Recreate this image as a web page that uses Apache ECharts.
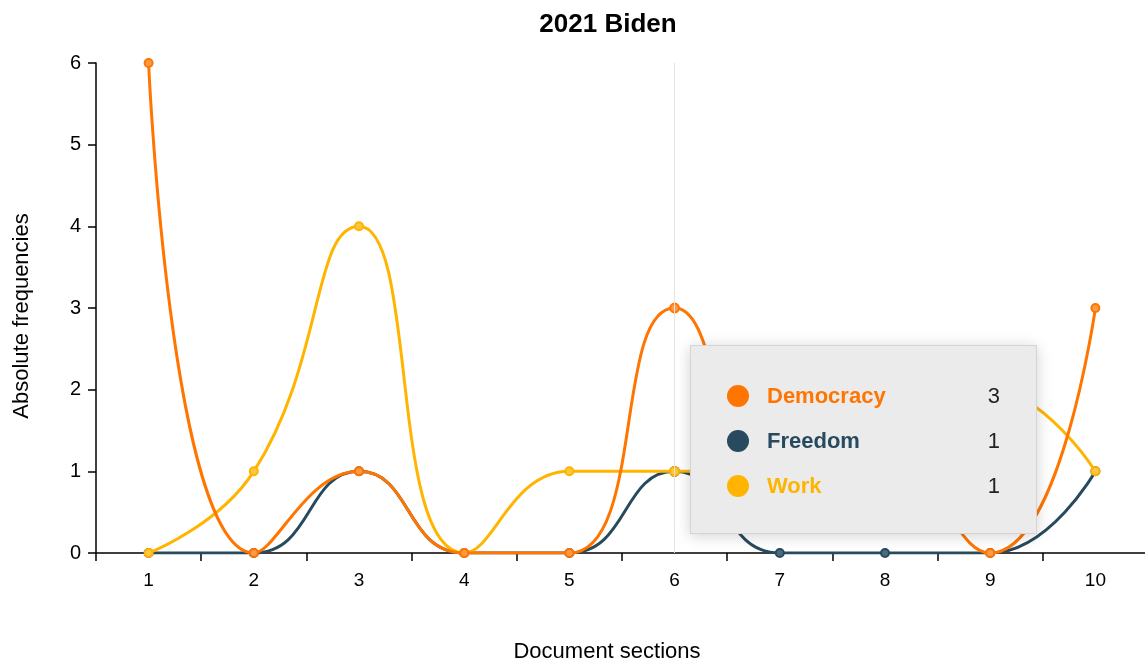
<!DOCTYPE html>
<html>
<head>
<meta charset="utf-8">
<title>2021 Biden</title>
<script src="https://cdn.jsdelivr.net/npm/echarts@6/dist/echarts.min.js"></script>
<style>
  html, body { margin: 0; padding: 0; background: #fff; }
  #chart { width: 1145px; height: 660px; }
</style>
</head>
<body>
<div id="chart"></div>
<script>
// Term frequencies per document section
const sections = ['1', '2', '3', '4', '5', '6', '7', '8', '9', '10'];
const democracy = [6, 0, 1, 0, 0, 3, 1, 1, 0, 3];
const freedom   = [0, 0, 1, 0, 0, 1, 0, 0, 0, 1];
const work      = [0, 1, 4, 0, 1, 1, 1, 1, 2, 1];
const yTicks = [0, 1, 2, 3, 4, 5, 6];

const COLORS = { Democracy: '#ff7500', Freedom: '#274a5e', Work: '#ffb400' };
const DOT_FILL = { Democracy: '#ff9a45', Freedom: '#4d6b7d', Work: '#ffc640' };
const FONT = '"Liberation Sans", Arial, Helvetica, sans-serif';
const focusIndex = 5;

const chart = echarts.init(document.getElementById('chart'), null, { renderer: 'canvas' });

function lineSeries(name, data, z) {
  return {
    name: name,
    type: 'line',
    data: data,
    smooth: 0.5,
    z: z,
    symbol: 'circle',
    symbolSize: 8,
    showSymbol: true,
    lineStyle: { color: COLORS[name], width: 3 },
    itemStyle: { color: DOT_FILL[name], borderColor: COLORS[name], borderWidth: 2 },
    emphasis: { disabled: true }
  };
}

const rows = [
  ['Democracy', democracy],
  ['Freedom', freedom],
  ['Work', work]
];

chart.setOption({
  animation: false,
  title: {
    text: '2021 Biden',
    left: 603,
    top: 7,
    textAlign: 'center',
    textStyle: { fontFamily: FONT, fontWeight: 'bold', fontSize: 26, color: '#000' }
  },
  grid: {
    left: 96, top: 63, width: 1052, height: 490,
    containLabel: false,
    outerBoundsMode: 'none'
  },
  tooltip: {
    trigger: 'axis',
    triggerOn: 'none',
    alwaysShowContent: true,
    transitionDuration: 0,
    position: [690, 345],
    backgroundColor: '#ebebeb',
    borderColor: '#d4d4d4',
    borderWidth: 1,
    padding: [27, 36, 25, 36],
    extraCssText: 'box-shadow: 0 2px 14px rgba(0,0,0,0.18); border-radius: 0;',
    axisPointer: {
      type: 'line',
      lineStyle: { color: '#e3e3e3', width: 1, type: 'solid' }
    },
    formatter: function (params) {
      const i = params[0].dataIndex;
      return rows.map(function (r) {
        const name = r[0];
        return '<div style="display:flex;align-items:center;width:273px;height:45px;font-family:' + FONT.replace(/"/g, "'") + ';font-size:22px;">' +
          '<span style="display:inline-block;width:22px;height:22px;border-radius:50%;background:' + COLORS[name] + ';margin-right:18px;"></span>' +
          '<span style="font-weight:bold;color:' + COLORS[name] + ';flex:1;">' + name + '</span>' +
          '<span style="color:#222;">' + r[1][i] + '</span></div>';
      }).join('');
    }
  },
  xAxis: {
    type: 'category',
    data: sections,
    boundaryGap: true,
    name: 'Document sections',
    nameLocation: 'middle',
    nameGap: 88,
    nameTextStyle: { fontFamily: FONT, fontSize: 22, color: '#000', padding: [0, 30, 0, 0] },
    axisLine: { lineStyle: { color: '#000', width: 1.5 } },
    axisTick: { show: true, alignWithLabel: false, length: 8, lineStyle: { color: '#000', width: 1.5 } },
    axisLabel: { fontFamily: FONT, fontSize: 19, color: '#000', margin: 18 },
    axisPointer: { show: true, value: focusIndex, status: 'show' },
    splitLine: { show: false }
  },
  yAxis: {
    type: 'value',
    min: 0,
    max: 6,
    interval: 1,
    name: 'Absolute frequencies',
    nameLocation: 'middle',
    nameGap: 63,
    nameTextStyle: { fontFamily: FONT, fontSize: 22, color: '#000', padding: [0, 16, 0, 0] },
    axisLine: { show: true, lineStyle: { color: '#000', width: 1.5 } },
    axisTick: { show: true, length: 8, lineStyle: { color: '#000', width: 1.5 } },
    axisLabel: {
      fontFamily: FONT, fontSize: 20, color: '#000', margin: 15,
      formatter: function (v) { return yTicks.indexOf(v) >= 0 ? String(v) : ''; }
    },
    splitLine: { show: false }
  },
  series: [
    lineSeries('Freedom', freedom, 2),
    lineSeries('Work', work, 3),
    lineSeries('Democracy', democracy, 4)
  ]
});

chart.dispatchAction({ type: 'showTip', seriesIndex: 0, dataIndex: focusIndex });
</script>
</body>
</html>
